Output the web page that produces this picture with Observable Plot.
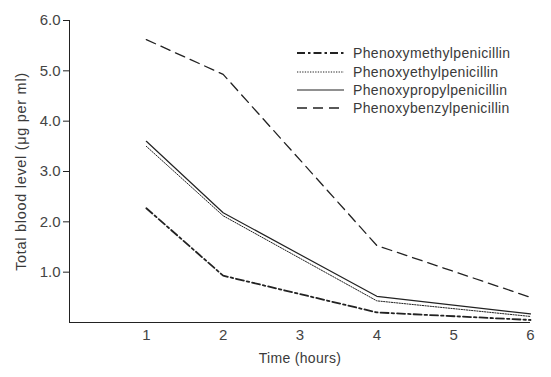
<!DOCTYPE html>
<html><head><meta charset="utf-8">
<script src="https://cdn.jsdelivr.net/npm/d3@7"></script>
<script src="https://cdn.jsdelivr.net/npm/@observablehq/plot@0.6"></script>
<style>
body{margin:0;background:#fff;font-family:"Liberation Sans",Arial,sans-serif;}
#wrap{position:relative;width:551px;height:377px;}
#legend{position:absolute;left:297px;top:44px;font-size:14px;letter-spacing:0.35px;color:#3a3a3a;}
#legend div{display:flex;align-items:center;height:18.4px;}
#legend svg{margin-right:9px;}
.ylab{letter-spacing:0.7px;}
.xlab{letter-spacing:0.3px;}
</style></head><body>
<div id="wrap"><div id="chart"></div><div id="legend"></div></div>
<script>
const hours = [1, 2, 4, 6];
const seriesNames = ["Phenoxymethylpenicillin","Phenoxyethylpenicillin","Phenoxypropylpenicillin","Phenoxybenzylpenicillin"];
const methyl = [2.27, 0.93, 0.2, 0.05];
const ethyl  = [3.5, 2.12, 0.43, 0.12];
const propyl = [3.6, 2.18, 0.52, 0.17];
const benzyl = [5.62, 4.93, 1.53, 0.5];
const yTicks = [1, 2, 3, 4, 5, 6];
const xTicks = [1, 2, 3, 4, 5, 6];

const styles = {
  "Phenoxymethylpenicillin": {dash:"8,3,2.5,3", w:1.8},
  "Phenoxyethylpenicillin": {dash:"1.3,1.3", w:1},
  "Phenoxypropylpenicillin": {dash:null, w:1.2},
  "Phenoxybenzylpenicillin": {dash:"10,6", w:1.3}
};
const values = [methyl, ethyl, propyl, benzyl];
const data = seriesNames.map((n,i)=>hours.map((h,j)=>({series:n, x:h, y:values[i][j]})));

const marks = [
  Plot.ruleX([0], {stroke:"#222", strokeWidth:1}),
  Plot.ruleY([0], {stroke:"#222", strokeWidth:1}),
  Plot.axisY(yTicks, {tickFormat: d=>d.toFixed(1), tickSize:6, tickPadding:3, fontSize:15, fill:"#444", stroke:"#222", label:null}),
  Plot.axisX(xTicks, {tickSize:0, tickPadding:7, fontSize:15, fill:"#444", label:null}),
  Plot.text(["Total blood level (μg per ml)"], {frameAnchor:"left", textAnchor:"middle", dx:-48, rotate:-90, fontSize:14.5, fill:"#3a3a3a", className:"ylab"}),
  Plot.text(["Time (hours)"], {frameAnchor:"bottom", lineAnchor:"middle", dy:36, fontSize:14, fill:"#3a3a3a", className:"xlab"})
];
data.forEach((d,i)=>{
  const s = styles[seriesNames[i]];
  marks.push(Plot.line(d, {x:"x", y:"y", stroke:"#222", strokeWidth:s.w, strokeDasharray:s.dash ?? undefined}));
});

const chart = Plot.plot({
  width:551, height:377,
  marginLeft:69, marginRight:21, marginTop:20, marginBottom:55,
  x:{domain:[0,6]}, y:{domain:[0,6]},
  style:{fontFamily:"Liberation Sans, Arial, sans-serif", background:"#fff"},
  marks
});
document.getElementById("chart").appendChild(chart);

const leg = document.getElementById("legend");
seriesNames.forEach(n=>{
  const s = styles[n];
  const row = document.createElement("div");
  row.innerHTML = `<svg width="47" height="6"><line x1="0" x2="47" y1="3" y2="3" stroke="#222" stroke-width="${s.w}" ${s.dash?`stroke-dasharray="${s.dash}"`:""}/></svg><span>${n}</span>`;
  leg.appendChild(row);
});
</script></body></html>
